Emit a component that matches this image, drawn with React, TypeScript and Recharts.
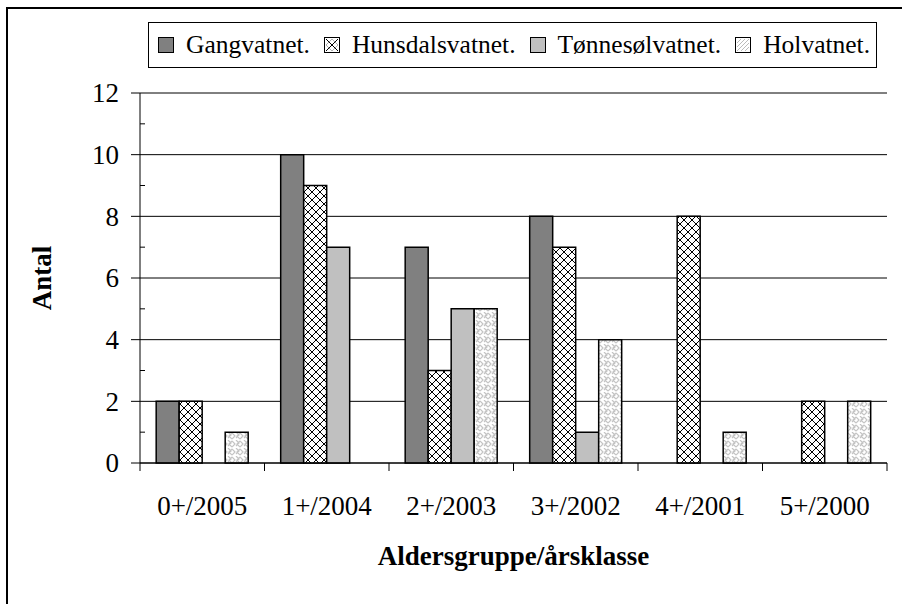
import React from 'react';
import { BarChart, Bar, XAxis, YAxis, CartesianGrid, Label } from 'recharts';

const categories = ['0+/2005', '1+/2004', '2+/2003', '3+/2002', '4+/2001', '5+/2000'];
const gangvatnet = [2, 10, 7, 8, 0, 0];
const hunsdalsvatnet = [2, 9, 3, 7, 8, 2];
const tonnesolvatnet = [0, 7, 5, 1, 0, 0];
const holvatnet = [1, 0, 5, 4, 1, 2];
const yTicks = [0, 1, 2, 3, 4, 5, 6, 7, 8, 9, 10, 11, 12];
const yGridValues = [0, 2, 4, 6, 8, 10, 12];
const seriesNames = ['Gangvatnet.', 'Hunsdalsvatnet.', 'Tønnesølvatnet.', 'Holvatnet.'];

const data = categories.map((c, i) => ({
  cat: c,
  g: gangvatnet[i],
  h: hunsdalsvatnet[i],
  t: tonnesolvatnet[i],
  o: holvatnet[i],
}));

const FONT = '"Liberation Serif", "Times New Roman", serif';
const W = 902;
const H = 604;
const MARGIN = { top: 93, right: 15, left: 0, bottom: 31 };
const Y_AXIS_W = 140;
const X_AXIS_H = 110;

const fills = ['#808080', 'url(#hatchCross)', '#c0c0c0', 'url(#hatchWeave)'];

function PatternDefs() {
  return (
    <defs>
      <pattern id="hatchCross" patternUnits="userSpaceOnUse" width="8" height="8">
        <rect width="8" height="8" fill="#fff" />
        <path d="M0 0 L8 8 M8 0 L0 8" stroke="#000" strokeWidth="1" />
      </pattern>
      <pattern id="hatchWeave" patternUnits="userSpaceOnUse" width="8" height="8">
        <rect width="8" height="8" fill="#fff" />
        <path d="M0 1 L3 4 L0 7 M4 0 L7 3 L4 6 M8 1 L5 4 L8 7" stroke="#c4c4c4" strokeWidth="1.2" fill="none" />
      </pattern>
    </defs>
  );
}

function YTick(props: any) {
  const { x, y, payload } = props;
  const v = payload.value;
  if (v % 2 === 1) {
    return <line x1={x} x2={x + 5} y1={y} y2={y} stroke="#000" strokeWidth={1} />;
  }
  return (
    <g>
      <line x1={x - 9} x2={x} y1={y} y2={y} stroke="#000" strokeWidth={1} />
      <text x={x - 21} y={y} dy="0.35em" textAnchor="end" fontFamily={FONT} fontSize={27} fill="#000">
        {v}
      </text>
    </g>
  );
}

function XTick(props: any) {
  const { x, y, payload, index } = props;
  const plotW = W - MARGIN.right - Y_AXIS_W - MARGIN.left;
  const off = payload && typeof payload.offset === 'number' && payload.offset > 0 ? payload.offset : plotW / categories.length / 2;
  return (
    <g>
      <line x1={x - off} x2={x - off} y1={y} y2={y + 8} stroke="#000" strokeWidth={1} />
      {index === categories.length - 1 ? (
        <line x1={x + off} x2={x + off} y1={y} y2={y + 8} stroke="#000" strokeWidth={1} />
      ) : null}
      <text x={x} y={y + 52} textAnchor="middle" fontFamily={FONT} fontSize={27} fill="#000">
        {payload.value}
      </text>
    </g>
  );
}

function YLabel(props: any) {
  const vb = props.viewBox || { x: 0, y: 0, width: 0, height: 0 };
  const cx = vb.x + 51;
  const cy = vb.y + vb.height / 2;
  return (
    <text x={cx} y={cy} transform={`rotate(-90, ${cx}, ${cy})`} textAnchor="middle" fontFamily={FONT} fontSize={27} fontWeight="bold" fill="#000">
      Antal
    </text>
  );
}

function LegendSwatch({ fill }: { fill: string }) {
  return (
    <svg width={16} height={16} style={{ display: 'block', flex: '0 0 auto' }}>
      <defs>
        <pattern id={'lg' + fill.replace(/[^a-z0-9]/gi, '')} patternUnits="userSpaceOnUse" width="5" height="5">
          <rect width="5" height="5" fill="#fff" />
          <path d="M0 0 L5 5 M5 0 L0 5" stroke="#000" strokeWidth="0.8" />
        </pattern>
      </defs>
      <rect x={0.5} y={0.5} width={15} height={15} fill={fill} stroke="#000" strokeWidth={1} />
      {fill === 'url(#hatchCross)' ? (
        <g>
          <rect x={0.5} y={0.5} width={15} height={15} fill="#fff" stroke="#000" strokeWidth={1} />
          <path d="M2 2 L14 14 M14 2 L2 14" stroke="#000" strokeWidth={1} />
          <path d="M8 2 L14 8 L8 14 L2 8 Z" stroke="#777" strokeWidth={0.6} fill="none" />
        </g>
      ) : null}
      {fill === 'url(#hatchWeave)' ? (
        <g>
          <rect x={0.5} y={0.5} width={15} height={15} fill="#fff" stroke="#000" strokeWidth={1} />
          <path d="M2 6 L6 2 M2 10 L10 2 M2 14 L14 2 M6 14 L14 6 M10 14 L14 10" stroke="#bbb" strokeWidth={1} />
        </g>
      ) : null}
    </svg>
  );
}

function LegendBox() {
  return (
    <div
      style={{
        position: 'absolute',
        left: 148,
        top: 22,
        width: 729,
        height: 46,
        boxSizing: 'border-box',
        border: '1px solid #000',
        background: '#fff',
        display: 'flex',
        alignItems: 'center',
        paddingLeft: 9,
        fontFamily: FONT,
        fontSize: 25.5,
        color: '#000',
        whiteSpace: 'nowrap',
      }}
    >
      {seriesNames.map((n, i) => (
        <div key={n} style={{ display: 'flex', alignItems: 'center', marginRight: 14 }}>
          <LegendSwatch fill={fills[i]} />
          <span style={{ marginLeft: 12, lineHeight: '30px' }}>{n}</span>
        </div>
      ))}
    </div>
  );
}

export default function App() {
  return (
    <div style={{ position: 'absolute', left: 0, top: 0, width: W, height: H, overflow: 'hidden', background: '#fff' }}>
      <div
        style={{
          position: 'absolute',
          left: 6,
          top: 7,
          width: W + 20,
          height: H + 20,
          border: '2px solid #000',
          boxSizing: 'border-box',
        }}
      />
      <div style={{ position: 'absolute', left: 0, top: 0 }}>
        <BarChart width={W} height={H} data={data} margin={MARGIN} barCategoryGap="13%" barGap={0}>
          <PatternDefs />
          <CartesianGrid horizontal vertical={false} horizontalValues={yGridValues} stroke="#000" strokeWidth={1} />
          <XAxis
            dataKey="cat"
            height={X_AXIS_H}
            tickLine={false}
            tickSize={0}
            tickMargin={0}
            interval={0}
            axisLine={{ stroke: '#000', strokeWidth: 1 }}
            tick={<XTick />}
          >
            <Label
              value="Aldersgruppe/årsklasse"
              position="insideBottom"
              offset={8}
              style={{ fontFamily: FONT, fontSize: 27, fontWeight: 'bold', fill: '#000' }}
            />
          </XAxis>
          <YAxis
            width={Y_AXIS_W}
            domain={[0, 12]}
            ticks={yTicks}
            interval={0}
            tickLine={false}
            tickSize={0}
            tickMargin={0}
            axisLine={{ stroke: '#000', strokeWidth: 1 }}
            tick={<YTick />}
            label={<YLabel />}
          />
          <Bar dataKey="g" fill={fills[0]} stroke="#000" strokeWidth={1.5} isAnimationActive={false} />
          <Bar dataKey="h" fill={fills[1]} stroke="#000" strokeWidth={1.5} isAnimationActive={false} />
          <Bar dataKey="t" fill={fills[2]} stroke="#000" strokeWidth={1.5} isAnimationActive={false} />
          <Bar dataKey="o" fill={fills[3]} stroke="#000" strokeWidth={1.5} isAnimationActive={false} />
        </BarChart>
      </div>
      <LegendBox />
    </div>
  );
}
